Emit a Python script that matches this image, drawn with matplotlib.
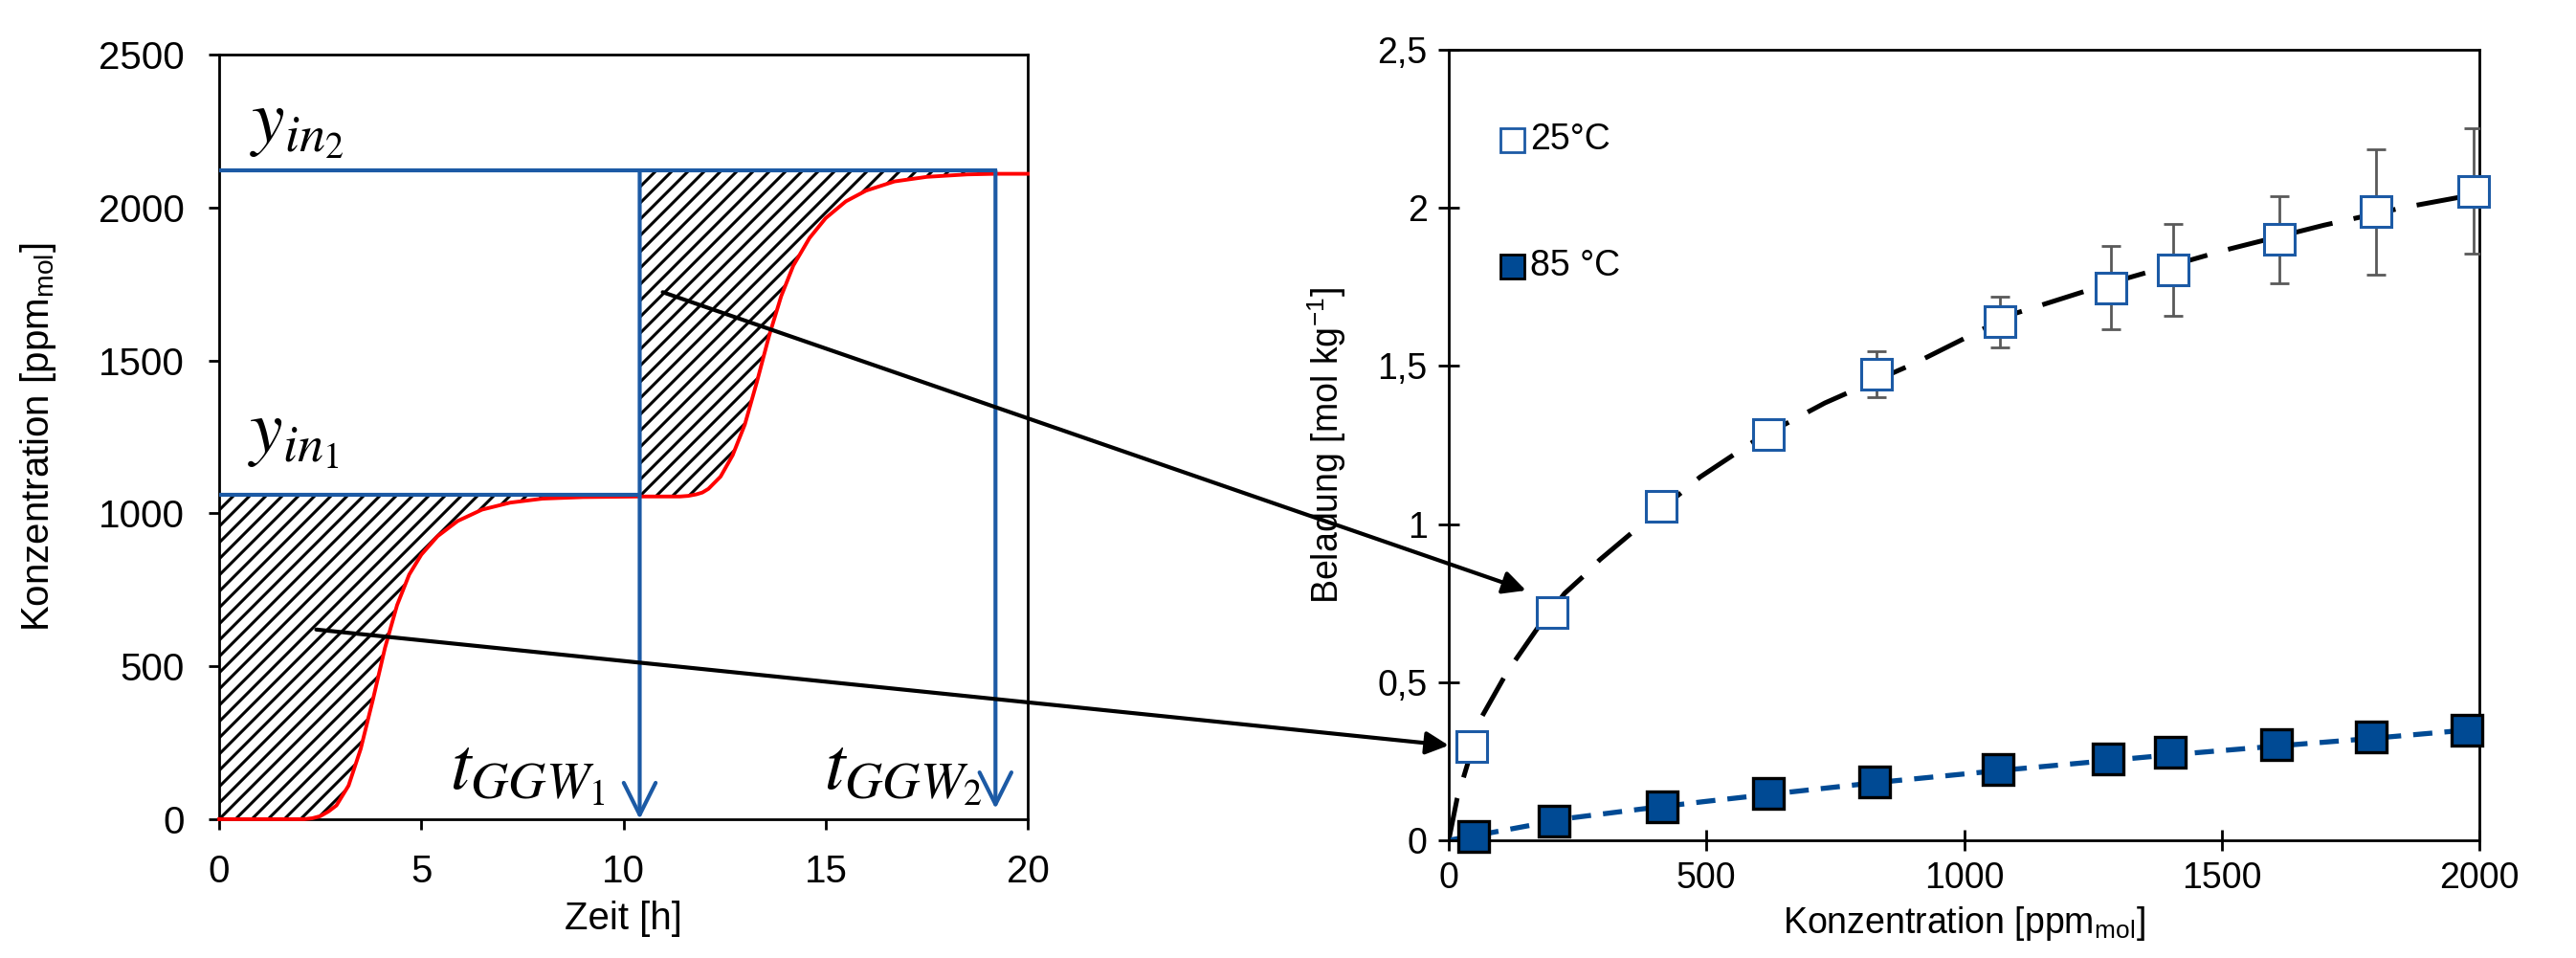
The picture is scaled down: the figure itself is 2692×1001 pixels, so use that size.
import numpy as np
import matplotlib
matplotlib.use('Agg')
import matplotlib.pyplot as plt
from matplotlib.patches import ConnectionPatch
from matplotlib.collections import LineCollection

plt.rcParams['font.family'] = ['Liberation Sans', 'DejaVu Sans']
plt.rcParams['mathtext.fontset'] = 'stix'

# left chart: breakthrough curve
t_red = [0, 2.1, 2.3, 2.5, 2.7, 2.9, 3.2, 3.5, 3.8, 4.1, 4.4, 4.7, 5.0, 5.4, 5.9, 6.5, 7.2, 8.0, 9.0,
         10.4, 11.4, 11.6, 11.8, 11.95, 12.1, 12.4, 12.7, 13.0, 13.3, 13.6, 13.9, 14.2, 14.6, 15.0,
         15.5, 16.0, 16.7, 17.5, 18.5, 19.2, 20]
c_red = [0, 0, 3, 10, 25, 45, 110, 230, 390, 560, 700, 800, 865, 925, 975, 1012, 1035, 1048, 1053,
         1055, 1055, 1057, 1062, 1068, 1080, 1120, 1190, 1290, 1430, 1580, 1710, 1810, 1900, 1965,
         2020, 2055, 2085, 2100, 2108, 2110, 2110]
y_in1 = 1060
y_in2 = 2120
t_ggw1 = 10.4
t_ggw2 = 19.2
t_ggw2_tip = 34

# right chart: isotherms
conc_25 = [45, 201, 413, 620, 830, 1070, 1285, 1405, 1612, 1800, 1988]
load_25 = [0.298, 0.719, 1.057, 1.283, 1.474, 1.639, 1.747, 1.803, 1.900, 1.987, 2.053]
err_25 = [0, 0, 0, 0.04, 0.073, 0.08, 0.132, 0.145, 0.138, 0.198, 0.199]
conc_85 = [48, 204, 414, 620, 827, 1065, 1279, 1400, 1606, 1790, 1976]
load_85 = [0.012, 0.06, 0.106, 0.147, 0.186, 0.224, 0.257, 0.277, 0.304, 0.327, 0.348]
fit25_x = [0, 16, 40, 64, 107, 129, 172, 225, 262, 293, 355, 451, 488, 600, 730, 905, 1095, 1300,
           1508, 1698, 1850, 2000]
fit25_y = [0, 0.13, 0.26, 0.39, 0.514, 0.569, 0.67, 0.781, 0.836, 0.887, 0.972, 1.099, 1.149, 1.27,
           1.383, 1.509, 1.664, 1.77, 1.867, 1.945, 2.0, 2.045]
fit85_x = [0, 82, 234, 370, 494, 620, 827, 1065, 1279, 1400, 1606, 1790, 2000]
fit85_y = [0, 0.024, 0.07, 0.098, 0.122, 0.145, 0.182, 0.22, 0.252, 0.27, 0.298, 0.322, 0.352]
ytick_vals = [0, 0.5, 1, 1.5, 2, 2.5]
ytick_labels = ['0', '0,5', '1', '1,5', '2', '2,5']

blue = '#1c5aa5'
navy = '#004a94'

fig = plt.figure(figsize=(26.92, 10.01), dpi=100)
ax1 = fig.add_axes([0.0851, 0.1449, 0.3139, 0.7982])
ax2 = fig.add_axes([0.5624, 0.1229, 0.4001, 0.8252])

# ---- left chart
ax1.set_xlim(0, 20)
ax1.set_ylim(0, 2500)
t = np.array(t_red)
c = np.array(c_red)
m1 = t <= t_ggw1
m2 = (t >= t_ggw1) & (t <= t_ggw2)
areas = [ax1.fill_between(t[m1], c[m1], y_in1, facecolor='white', linewidth=0),
         ax1.fill_between(t[m2], c[m2], y_in2, facecolor='white', linewidth=0)]

# hatching drawn by hand: 45 deg lines ~17 px apart, clipped to the areas
p0 = ax1.transData.transform((0, 0))
p1 = ax1.transData.transform((1, 1))
px_h, px_ppm = p1[0] - p0[0], p1[1] - p0[1]
ratio = px_h / px_ppm
step = 17 / px_h
span = 2500 / ratio
segs = [[(s, 0), (s + span, 2500)] for s in np.arange(-span, 20, step)]
for area in areas:
    lc = LineCollection(segs, colors='black', linewidths=2.2, zorder=2)
    ax1.add_collection(lc)
    lc.set_clip_path(area.get_paths()[0], ax1.transData)

ax1.plot(t, c, color='red', lw=2.8, zorder=3, clip_on=False)
ax1.plot([0, t_ggw1], [y_in1, y_in1], color=blue, lw=3.0, zorder=4)
ax1.plot([0, t_ggw2], [y_in2, y_in2], color=blue, lw=3.0, zorder=4)
for tx, tip in [(t_ggw1, 0), (t_ggw2, t_ggw2_tip)]:
    ax1.annotate('', xy=(tx, tip), xytext=(tx, y_in2),
                 arrowprops=dict(arrowstyle='->', color=blue, lw=3.0, mutation_scale=60,
                                 shrinkA=0, shrinkB=0), zorder=4)

ax1.text(0.75, 2215, r'$y_{in_2}$', fontsize=56, va='baseline')
ax1.text(0.7, 1200, r'$y_{in_1}$', fontsize=56, va='baseline')
ax1.text(5.7, 100, r'$t_{GGW_1}$', fontsize=56, va='baseline')
ax1.text(14.95, 100, r'$t_{GGW_2}$', fontsize=56, va='baseline')

ax1.set_xticks(range(0, 21, 5))
ax1.set_yticks(range(0, 2501, 500))
ax1.tick_params(direction='out', length=8, width=2, labelsize=29, pad=18)
for s in ax1.spines.values():
    s.set_linewidth(2)
ax1.set_xlabel('Zeit [h]', fontsize=29, labelpad=8)
ax1.set_ylabel(r'Konzentration [ppm$_\mathregular{mol}$]', fontsize=29, labelpad=30)

# ---- right chart
ax2.plot(fit25_x, fit25_y, color='black', lw=3.6, dashes=(9, 4.5), zorder=2)
ax2.plot(fit85_x, fit85_y, color=navy, lw=3.8, dashes=(3.8, 2.4), zorder=2)
ax2.errorbar(conc_25, load_25, yerr=err_25, fmt='none', ecolor='#595959', elinewidth=2,
             capsize=7, capthick=2, zorder=3)
ax2.plot(conc_25, load_25, ls='none', marker='s', ms=23, mfc='white', mec=blue, mew=2.2,
         zorder=4, clip_on=False)
ax2.plot(conc_85, load_85, ls='none', marker='s', ms=23, mfc=navy, mec='black', mew=2.4,
         zorder=4, clip_on=False)

# legend
ax2.plot([0.061], [0.886], transform=ax2.transAxes, ls='none', marker='s', ms=18, mfc='white',
         mec=blue, mew=2, clip_on=False)
ax2.text(0.079, 0.886, '25°C', transform=ax2.transAxes, fontsize=27, va='center')
ax2.plot([0.061], [0.726], transform=ax2.transAxes, ls='none', marker='s', ms=18, mfc=navy,
         mec='black', mew=2, clip_on=False)
ax2.text(0.079, 0.726, '85 °C', transform=ax2.transAxes, fontsize=27, va='center')

ax2.set_xlim(0, 2000)
ax2.set_ylim(0, 2.5)
ax2.set_xticks(range(0, 2001, 500))
ax2.set_yticks(ytick_vals)
ax2.set_yticklabels(ytick_labels)
ax2.tick_params(direction='inout', length=16, width=2, labelsize=27, pad=8)
for s in ax2.spines.values():
    s.set_linewidth(2)
ax2.set_xlabel(r'Konzentration [ppm$_\mathregular{mol}$]', fontsize=27, labelpad=6)
ax2.set_ylabel(r'Beladung [mol kg$^\mathregular{-1}$]', fontsize=27, labelpad=22)

# arrows from the hatched areas to the isotherm points
for xa, xb in [((2.4, 620), (0, 0.30)), ((10.97, 1723), (150, 0.79))]:
    con = ConnectionPatch(xyA=xa, coordsA=ax1.transData, xyB=xb, coordsB=ax2.transData,
                          arrowstyle='-|>', mutation_scale=36, lw=3, color='black',
                          shrinkA=0, shrinkB=0)
    fig.add_artist(con)

fig.savefig('out.png', dpi=100)
